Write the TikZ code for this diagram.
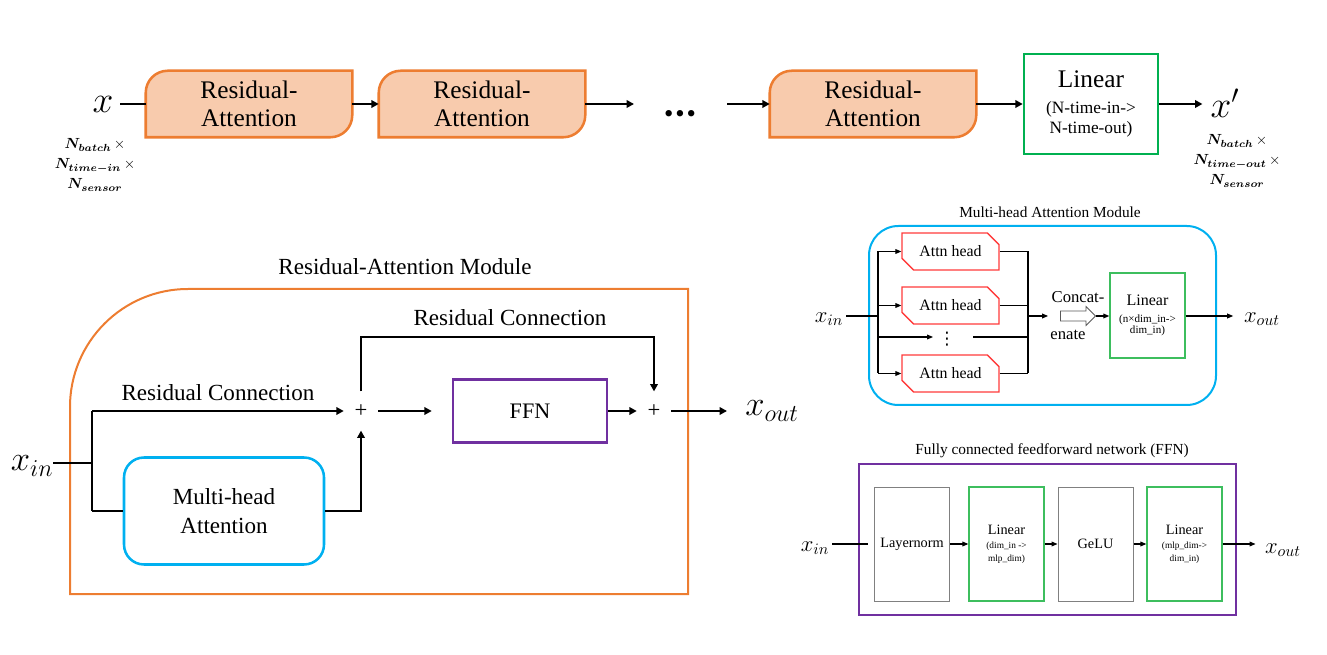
\RequirePackage{fix-cm}
\documentclass[tikz,border=0pt]{standalone}
\usepackage{fontspec}
\setmainfont{LiberationSerif}[Extension=.ttf,UprightFont=*-Regular,BoldFont=*-Bold,ItalicFont=*-Italic,BoldItalicFont=*-BoldItalic]
\newfontfamily\djv{DejaVu Sans}
\usetikzlibrary{arrows.meta,shapes.misc,shapes.arrows,backgrounds}
\definecolor{raorange}{HTML}{ED7D31}
\definecolor{rafill}{HTML}{F8CBAD}
\definecolor{lingreen}{HTML}{00B050}
\definecolor{softgreen}{HTML}{3DBE5E}
\definecolor{mhblue}{HTML}{00B0F0}
\definecolor{ffnpurple}{HTML}{7030A0}
\definecolor{headred}{HTML}{FF3B3B}
\definecolor{boxgray}{HTML}{808080}
\newcommand\fsz[2]{\fontsize{#1}{#2}\selectfont}
\newcommand\bN[1]{{\boldmath$N_{#1}$}}
\newcommand\raborder[1]{%
  \begin{scope}[on background layer]
  \filldraw[fill=rafill,draw=raorange,line width=1.9pt]
    (#1.south west) -- ([yshift=-16.5pt]#1.north west)
    arc[start angle=180,end angle=90,radius=16.5pt]
    -- (#1.north east) -- ([yshift=16.5pt]#1.south east)
    arc[start angle=0,end angle=-90,radius=16.5pt] -- cycle;
  \end{scope}}
\begin{document}
\begin{tikzpicture}[x=0.75pt,y=-0.75pt,
  arrB/.style={line width=1.9pt,-{Triangle[length=5.5pt,width=5.6pt]}},
  lnB/.style={line width=1.9pt},
  arrS/.style={line width=0.8pt,-{Triangle[length=4.5pt,width=3.6pt]}},
  lnS/.style={line width=0.8pt},
  rabox/.style={minimum width=154.5pt,minimum height=49.5pt,inner sep=0pt,align=center,font=\fsz{19}{21.25}},
  mathlab/.style={inner sep=0pt},
  dimlab/.style={inner sep=0pt,align=center,font=\fsz{11}{15}},
  bigtitle/.style={inner sep=0pt,font=\fsz{17.3}{20}},
  smalltitle/.style={inner sep=0pt,font=\fsz{11.5}{14}},
  plusn/.style={minimum width=25.5pt,minimum height=29pt,inner sep=0pt,font=\fsz{17}{17}},
  headbox/.style={chamfered rectangle,chamfered rectangle corners={north east,south west},
     chamfered rectangle xsep=4.5pt,chamfered rectangle ysep=4.5pt,draw=headred,line width=1pt,
     minimum width=72.75pt,minimum height=27.75pt,inner sep=0pt,font=\fsz{11.9}{14}},
  layerbox/.style={draw=boxgray,line width=0.75pt,minimum width=56.25pt,minimum height=85.5pt,inner sep=0pt,align=center,font=\fsz{10.7}{13}},
  linbox/.style={draw=softgreen,line width=1pt,minimum width=56.25pt,minimum height=85.5pt,inner sep=0pt,align=center,font=\fsz{7}{9.75}},
]
\useasboundingbox (0,0) rectangle (1327,655);

% ---------- top row ----------
\node[rabox] (ra1) at (249,104) {Residual-\\Attention};
\raborder{ra1}
\node[rabox] (ra2) at (482,104) {Residual-\\Attention};
\raborder{ra2}
\node[rabox] (ra3) at (873,104) {Residual-\\Attention};
\raborder{ra3}
\node[draw=lingreen,line width=1.9pt,minimum width=100.5pt,minimum height=75pt,inner sep=0pt,align=center,font=\fsz{13}{14.5}] (lin) at (1091,104)
  {\fsz{19}{20}Linear\\[5pt](N-time-in->\\N-time-out)};

\node[mathlab,font=\fsz{28}{28}] (xtop) at (103,104) {$x$};
\node[dimlab] (xdim) at (95,165) {\bN{batch}\,$\times$\\\bN{time{-}in}\,$\times$\\\bN{sensor}};
\draw[lnB,shorten <=5pt] (xtop.east |- ra1.west) -- (ra1.west);
\draw[arrB] (ra1) -- (ra2);
\coordinate (c1) at (634,104);
\draw[arrB] (ra2) -- (c1);
\node[inner sep=0pt,font=\fsz{20}{20}] (dots) at (680,117) {•\kern1.5pt•\kern1.5pt•};
\coordinate (c2) at (727,104);
\draw[arrB] (c2) -- (ra3);
\draw[arrB] (ra3) -- (lin);
\node[mathlab,font=\fsz{28}{28}] (xp) at (1225,103) {$x'$};
\draw[arrB,shorten >=6pt] (lin.east) -- (lin.east -| xp.west);
\node[dimlab] (xpdim) at (1237,161) {\bN{batch}\,$\times$\\\bN{time{-}out}\,$\times$\\\bN{sensor}};

% ---------- Residual-Attention module ----------
\node[bigtitle] (ramt) at (405,267) {Residual-Attention Module};
\draw[raorange,line width=1.5pt] (70,594) -- (70,407) arc[start angle=180,end angle=90,radius=88.5pt] -- (688,289) -- (688,594) -- cycle;
\node[mathlab,font=\fsz{26}{26}] (xin) at (32,466) {$x_{in}$};
\coordinate (jm) at (92,463);
\coordinate (jt) at (92,411);
\coordinate (jb) at (92,511);
\draw[lnB] (xin.east |- jm) -- (jm);
\draw[lnB] (jt) -- (jb);
\node[plusn] (p1) at (361,411) {+};
\node[plusn] (p2) at (654,411) {+};
\draw[arrB] (jt) -- (p1);
\node[bigtitle] (rc1) at (218,393) {Residual Connection};
\node[draw=mhblue,line width=1.9pt,rounded corners=15pt,minimum width=150pt,minimum height=80.25pt,inner sep=0pt,align=center,font=\fsz{17.3}{21.5}] (mha) at (224,511) {Multi-head\\Attention};
\draw[lnB] (jb) -- (mha.west);
\draw[arrB] (mha.east) -| (p1.south);
\node[draw=ffnpurple,line width=1.9pt,minimum width=115.5pt,minimum height=47.25pt,inner sep=0pt,font=\fsz{16.6}{20}] (ffn) at (530,411) {FFN};
\draw[arrB,shorten >=15pt] (p1) -- (ffn);
\draw[arrB] (ffn) -- (p2);
\coordinate (rt) at (361,337);
\draw[arrB] (p1.north) -- (rt) -| (p2.north);
\node[bigtitle] (rc2) at (510,318) {Residual Connection};
\node[mathlab,font=\fsz{26}{26}] (xout) at (772,411) {$x_{out}$};
\draw[arrB,shorten >=13.5pt] (p2) -- (xout);

% ---------- Multi-head attention module ----------
\node[smalltitle] (mhat) at (1050,212) {Multi-head Attention Module};
\node[draw=mhblue,line width=1.5pt,rounded corners=22pt,minimum width=260.25pt,minimum height=134.25pt] (mhaf) at (1042.5,315.5) {};
\node[mathlab,font=\fsz{17}{17}] (xin2) at (829,319) {$x_{in}$};
\coordinate (b0) at (878,316);
\node[headbox] (h1) at (950.5,251.5) {Attn head};
\node[headbox] (h2) at (950.5,305.5) {Attn head};
\node[headbox] (h3) at (950.5,373.5) {Attn head};
\node[inner sep=0pt,font=\djv\fsz{13}{13}] (vd) at (947,339) {⋮};
\draw[lnS,shorten <=2pt] (xin2.east |- b0) -- (b0);
\draw[lnS] (h1.west -| b0) -- (h3.west -| b0);
\draw[arrS] (h1.west -| b0) -- (h1.west);
\draw[arrS] (h2.west -| b0) -- (h2.west);
\draw[arrS] (h3.west -| b0) -- (h3.west);
\coordinate (vl) at (933,337);
\coordinate (vr) at (973,337);
\draw[arrS] (vl -| b0) -- (vl);
\coordinate (m0) at (1028,316);
\draw[lnS] (h1.east) -- (h1.east -| m0);
\draw[lnS] (h2.east) -- (h2.east -| m0);
\draw[lnS] (h3.east) -- (h3.east -| m0);
\draw[lnS] (vr) -- (vr -| m0);
\draw[lnS] (h1.east -| m0) -- (h3.east -| m0);
\node[inner sep=0pt,font=\fsz{12.5}{14}] (cat1) at (1078,297) {Concat-};
\node[inner sep=0pt,font=\fsz{12.5}{14}] (cat2) at (1068,335) {enate};
\node[single arrow,draw=black!65,fill=white,line width=0.6pt,minimum height=26.25pt,minimum width=13.5pt,inner sep=3.4pt,single arrow head extend=3.4pt,single arrow head indent=0pt] (cat) at (1075.5,316) {};
\draw[arrS,shorten >=9pt] (m0) -- (cat.west);
\node[draw=softgreen,line width=1.1pt,minimum width=56.25pt,minimum height=63.75pt,inner sep=0pt,align=center,font=\fsz{8.3}{8.5}] (lin2) at (1147.5,315.5) {\fsz{12}{13}Linear\\[4pt](n×dim\_in->\\dim\_in)};
\draw[arrS] (cat.east) -- (lin2.west |- cat.east);
\node[mathlab,font=\fsz{17}{17}] (xout2) at (1262,319) {$x_{out}$};
\draw[arrS,shorten >=8pt] (lin2.east |- b0) -- (xout2.west |- b0);

% ---------- FFN module ----------
\node[smalltitle] (ffnt) at (1052,451) {Fully connected feedforward network (FFN)};
\node[draw=ffnpurple,line width=1.5pt,minimum width=282.75pt,minimum height=113.25pt] (ffnf) at (1047.5,539.5) {};
\node[layerbox] (ln) at (912,544) {Layernorm};
\node[linbox] (fl1) at (1006.5,544) {\fsz{10.7}{13}Linear\\[1pt](dim\_in ->\\mlp\_dim)};
\node[layerbox] (gelu) at (1095.5,544) {GeLU};
\node[linbox] (fl2) at (1184.5,544) {\fsz{10.7}{13}Linear\\[1pt](mlp\_dim->\\dim\_in)};
\node[mathlab,font=\fsz{17}{17}] (xin3) at (815,548) {$x_{in}$};
\node[mathlab,font=\fsz{17}{17}] (xout3) at (1283,550) {$x_{out}$};
\draw[lnS,shorten >=4.5pt,shorten <=2pt] (xin3.east |- ln.west) -- (ln.west);
\draw[arrS] (ln) -- (fl1);
\draw[arrS] (fl1) -- (gelu);
\draw[arrS] (gelu) -- (fl2);
\draw[arrS,shorten >=7pt] (fl2.east) -- (fl2.east -| xout3.west);
\end{tikzpicture}
\end{document}
